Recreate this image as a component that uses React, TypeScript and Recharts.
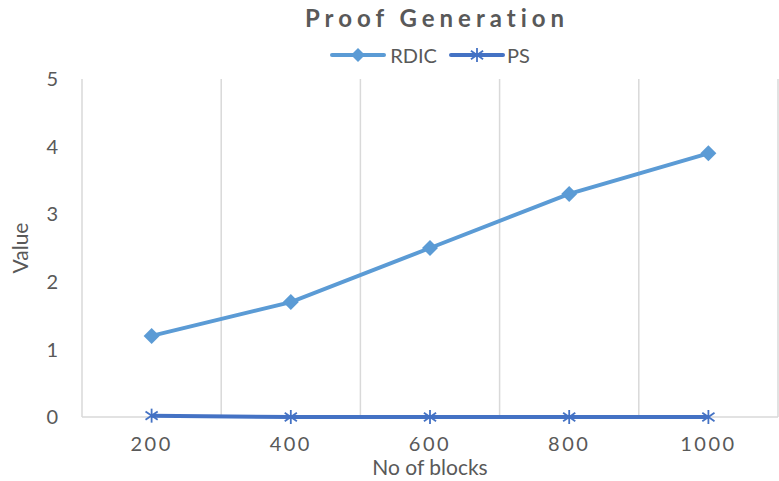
import React from 'react';
import {
  CartesianGrid,
  ComposedChart,
  Legend,
  Line,
  XAxis,
  YAxis,
} from 'recharts';

const blocks = ['200', '400', '600', '800', '1000'];
const rdic = [1.2, 1.7, 2.5, 3.3, 3.9];
const ps = [0.02, 0, 0, 0, 0];
const valueTicks = [0, 1, 2, 3, 4, 5];

const data = blocks.map((b, i) => ({ blocks: b, RDIC: rdic[i], PS: ps[i] }));

const FONT = 'Lato, "Open Sans", sans-serif';
const TEXT = '#595959';
const GRID = '#D9D9D9';
const RDIC_COLOR = '#5B9BD5';
const PS_COLOR = '#4472C4';

const Diamond = ({ cx, cy, size = 8, fill }: any) => (
  <polygon
    points={`${cx},${cy - size} ${cx + size},${cy} ${cx},${cy + size} ${cx - size},${cy}`}
    fill={fill}
  />
);

const Star = ({ cx, cy, size = 7, stroke }: any) => (
  <g stroke={stroke} strokeWidth={1.8}>
    <line x1={cx} y1={cy - size} x2={cx} y2={cy + size} />
    <line x1={cx - size * 0.87} y1={cy - size * 0.6} x2={cx + size * 0.87} y2={cy + size * 0.6} />
    <line x1={cx - size * 0.87} y1={cy + size * 0.6} x2={cx + size * 0.87} y2={cy - size * 0.6} />
  </g>
);

const TitleAndLegend = () => (
  <div style={{ fontFamily: FONT, color: TEXT, textAlign: 'center' }}>
    <div style={{ fontSize: 24, fontWeight: 700, letterSpacing: 5, lineHeight: '36px', paddingLeft: 96 }}>
      Proof Generation
    </div>
    <div style={{ display: 'flex', justifyContent: 'center', alignItems: 'center', paddingLeft: 82, fontSize: 20, height: 38 }}>
      <svg width={56} height={20}>
        <line x1={2} y1={10} x2={54} y2={10} stroke={RDIC_COLOR} strokeWidth={4} strokeLinecap="round" />
        <Diamond cx={28} cy={10} size={7} fill={RDIC_COLOR} />
      </svg>
      <span style={{ marginLeft: 4, marginRight: 12 }}>RDIC</span>
      <svg width={56} height={20}>
        <line x1={2} y1={10} x2={54} y2={10} stroke={PS_COLOR} strokeWidth={4} strokeLinecap="round" />
        <Star cx={28} cy={10} size={7} stroke={PS_COLOR} />
      </svg>
      <span style={{ marginLeft: 2 }}>PS</span>
    </div>
  </div>
);

export default function App() {
  return (
    <div style={{ position: 'absolute', left: 0, top: 0 }}>
      <ComposedChart width={779} height={481} data={data} margin={{ top: 5, right: 1, left: 0, bottom: 0 }}>
        <Legend
          verticalAlign="top"
          height={74}
          wrapperStyle={{ top: 0 }}
          content={() => <TitleAndLegend />}
        />
        <CartesianGrid
          vertical
          horizontal
          stroke={GRID}
          strokeWidth={1.5}
          verticalCoordinatesGenerator={({ offset }: any) =>
            Array.from({ length: blocks.length + 1 }, (_, i) => offset.left + (offset.width * i) / blocks.length)
          }
          horizontalCoordinatesGenerator={({ offset }: any) => [offset.top + offset.height]}
        />
        <XAxis
          dataKey="blocks"
          scale="band"
          height={64}
          axisLine={false}
          tickLine={false}
          tickSize={0}
          tickMargin={20}
          tick={{ fill: TEXT, fontSize: 20, fontFamily: FONT, letterSpacing: 2.5 }}
          label={{ value: 'No of blocks', position: 'insideBottom', offset: 6, fill: TEXT, fontSize: 21, fontFamily: FONT }}
        />
        <YAxis
          width={82}
          domain={[0, 5]}
          ticks={valueTicks}
          axisLine={false}
          tickLine={false}
          tickSize={0}
          tickMargin={24}
          tick={{ fill: TEXT, fontSize: 20, fontFamily: FONT }}
          label={{ value: 'Value', angle: -90, position: 'insideLeft', offset: 21, fill: TEXT, fontSize: 21, fontFamily: FONT, style: { textAnchor: 'middle' } }}
        />
        <Line
          dataKey="RDIC"
          stroke={RDIC_COLOR}
          strokeWidth={4}
          dot={(p: any) => <Diamond key={`r${p.index}`} cx={p.cx} cy={p.cy} size={8} fill={RDIC_COLOR} />}
          activeDot={false}
          isAnimationActive={false}
        />
        <Line
          dataKey="PS"
          stroke={PS_COLOR}
          strokeWidth={4}
          dot={(p: any) => <Star key={`p${p.index}`} cx={p.cx} cy={p.cy} size={7} stroke={PS_COLOR} />}
          activeDot={false}
          isAnimationActive={false}
        />
      </ComposedChart>
    </div>
  );
}
